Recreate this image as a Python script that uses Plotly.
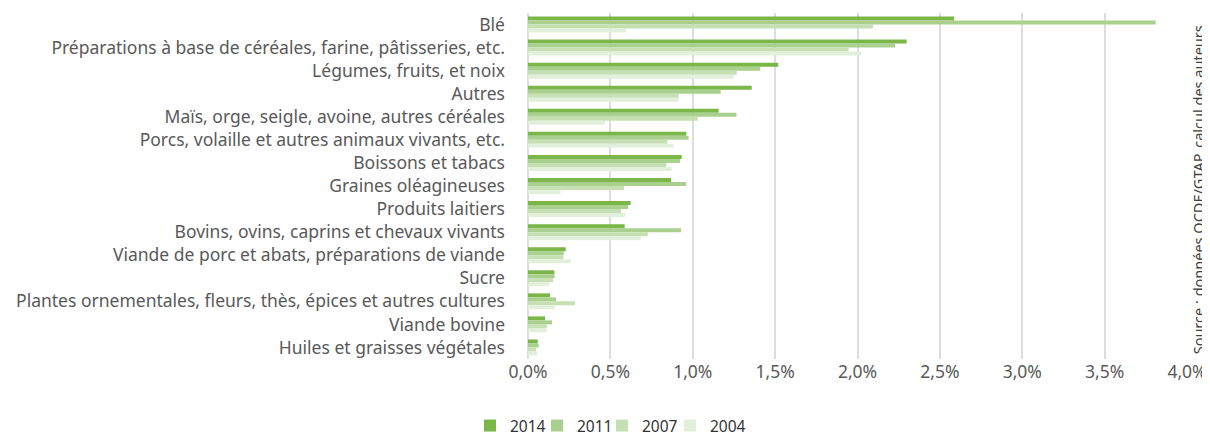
import plotly.graph_objects as go

categories = [
    "Blé",
    "Préparations à base de céréales, farine, pâtisseries, etc.",
    "Légumes, fruits, et noix",
    "Autres",
    "Maïs, orge, seigle, avoine, autres céréales",
    "Porcs, volaille et autres animaux vivants, etc.",
    "Boissons et tabacs",
    "Graines oléagineuses",
    "Produits laitiers",
    "Bovins, ovins, caprins et chevaux vivants",
    "Viande de porc et abats, préparations de viande",
    "Sucre",
    "Plantes ornementales, fleurs, thès, épices et autres cultures",
    "Viande bovine",
    "Huiles et graisses végétales",
]

v2014 = [0.02587, 0.02298, 0.01519, 0.01358, 0.01157, 0.00961, 0.00933, 0.00868, 0.00623, 0.00587, 0.00229, 0.00160, 0.00134, 0.00103, 0.00059]
v2011 = [0.03810, 0.02228, 0.01410, 0.01170, 0.01265, 0.00975, 0.00923, 0.00959, 0.00607, 0.00929, 0.00217, 0.00162, 0.00170, 0.00146, 0.00065]
v2007 = [0.02094, 0.01946, 0.01267, 0.00915, 0.01030, 0.00846, 0.00840, 0.00583, 0.00565, 0.00727, 0.00215, 0.00152, 0.00285, 0.00115, 0.00049]
v2004 = [0.00595, 0.02021, 0.01249, 0.00912, 0.00467, 0.00884, 0.00872, 0.00198, 0.00590, 0.00684, 0.00261, 0.00127, 0.00164, 0.00113, 0.00055]

series = [("2014", v2014, "#7ab648"), ("2011", v2011, "#a9d08e"),
          ("2007", v2007, "#c6e0b4"), ("2004", v2004, "#e2efda")]

FONT = "Noto Sans"
FS = 17.5
W, H = 1202, 430          # page body has an 8px margin
legend_text_x = [506, 573, 638, 706]   # page px where each legend label starts

fig = go.Figure()
legend_ids = ["legend", "legend2", "legend3", "legend4"]
for (name, vals, col), lid in zip(series, legend_ids):
    fig.add_trace(go.Bar(
        y=categories, x=vals, name=name, orientation="h",
        marker=dict(color=col, line=dict(width=0)),
        legend=lid,
    ))

legend_layouts = {}
for lid, tx in zip(legend_ids, legend_text_x):
    legend_layouts[lid] = dict(
        orientation="h", xref="container", yref="container",
        x=(tx - 8 - 36) / W, xanchor="left",
        y=0.028, yanchor="middle",
        font=dict(size=15.5, color="#333333"),
        itemwidth=30, borderwidth=0, bgcolor="rgba(0,0,0,0)",
    )

fig.update_layout(
    width=W, height=H,
    barmode="group", bargap=0.307, bargroupgap=0,
    paper_bgcolor="white", plot_bgcolor="white",
    separators=",.",
    font=dict(family=FONT, size=FS, color="#595959"),
    margin=dict(l=520, r=23, t=4.5, b=79, autoexpand=False),
    showlegend=True,
    xaxis=dict(range=[0, 0.04], dtick=0.005, tickformat=".1%",
               showgrid=True, gridcolor="#dddddd", gridwidth=1.5,
               zeroline=True, zerolinecolor="#dddddd", zerolinewidth=1.5,
               showline=False, ticks="", tickfont=dict(size=FS, color="#595959"),
               automargin=False, fixedrange=True),
    yaxis=dict(autorange="reversed", showgrid=False, ticks="",
               ticklabelstandoff=22, tickfont=dict(size=FS, color="#595959"),
               automargin=False, fixedrange=True),
    **legend_layouts,
)

fig.add_annotation(
    text="Source : données OCDE/GTAP, calcul des auteurs",
    textangle=-90, xref="paper", yref="paper",
    x=1.0, xshift=11, y=0.4875,
    xanchor="center", yanchor="middle", showarrow=False,
    font=dict(family=FONT, size=14.5, color="#404040"),
)

fig.write_html("out.html")
